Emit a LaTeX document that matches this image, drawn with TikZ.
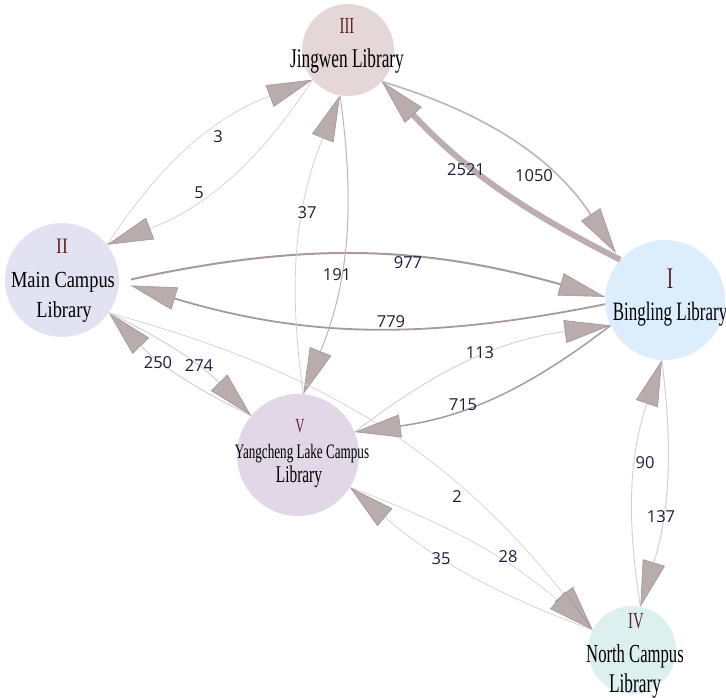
\documentclass[tikz,border=0pt]{standalone}
\usepackage{fontspec}
\setmainfont{Liberation Serif}
\newfontfamily\nodefont[FakeStretch=0.64]{Liberation Serif}
\newfontfamily\nodefontw[FakeStretch=0.8]{Liberation Serif}
\newfontfamily\numfont{Open Sans}
\usetikzlibrary{arrows.meta}
\definecolor{cI}{HTML}{DCEDFB}
\definecolor{cII}{HTML}{E3E2F3}
\definecolor{cIII}{HTML}{E5D7D8}
\definecolor{cIV}{HTML}{DDF0F0}
\definecolor{cV}{HTML}{E1D7E7}
\definecolor{romanc}{HTML}{5E2226}
\definecolor{labc}{HTML}{1E1E3C}
\definecolor{headc}{HTML}{B9ACAD}
\definecolor{headd}{HTML}{A39496}
\definecolor{thinc}{HTML}{D2D0D0}
\definecolor{midc}{HTML}{BDB3B4}
\definecolor{darkc}{HTML}{A89A9C}
\definecolor{thickc}{HTML}{BCADB0}
\begin{document}
\begin{tikzpicture}[x=1pt,y=-1pt,
  lib/.style={circle,inner sep=0pt,draw=none},
  roman/.style={anchor=base,inner sep=0pt,text=romanc},
  libtext/.style={anchor=base,inner sep=0pt,text=black},
  num/.style={inner sep=0pt,text=labc,font=\numfont\fontsize{16.5}{18}\selectfont},
  link/.style={-{Triangle[length=46pt,width=23pt,fill=headc,color=headd,line width=0.6pt]}},
]
\useasboundingbox (0,0) rectangle (726,697);
% circles
\node[lib,fill=cIII,minimum size=92pt] (III) at (348,50) {};
\node[lib,fill=cII,minimum size=114pt] (II) at (62,280) {};
\node[lib,fill=cI,minimum size=120pt] (I) at (665,300) {};
\node[lib,fill=cV,minimum size=122pt] (V) at (298,455) {};
\node[lib,fill=cIV,minimum size=88pt] (IV) at (632,650) {};
% texts
\node[roman,font=\nodefont\fontsize{23}{23}\selectfont] (rIII) at (347,33) {III};
\node[libtext,font=\nodefont\fontsize{27}{27}\selectfont] (nIII) at (347,67) {Jingwen Library};
\node[roman,font=\nodefontw\fontsize{22}{22}\selectfont] (rII) at (62,253) {II};
\node[libtext,font=\nodefontw\fontsize{23}{23}\selectfont] (nII) at (63,287) {Main Campus};
\node[libtext,font=\nodefontw\fontsize{23}{23}\selectfont] (nIIb) at (64,317) {Library};
\node[roman,font=\nodefont\fontsize{30}{30}\selectfont] (rI) at (670,288) {I};
\node[libtext,font=\nodefont\fontsize{26.5}{27}\selectfont] (nI) at (670,320) {Bingling Library};
\node[roman,font=\nodefont\fontsize{20}{20}\selectfont] (rV) at (300,432) {V};
\node[libtext,font=\nodefont\fontsize{20.5}{21}\selectfont] (nV) at (302,458) {Yangcheng Lake Campus};
\node[libtext,font=\nodefont\fontsize{24}{24}\selectfont] (nVb) at (299,482) {Library};
\node[roman,font=\nodefont\fontsize{23}{23}\selectfont] (rIV) at (636,628) {IV};
\node[libtext,font=\nodefont\fontsize{26}{26}\selectfont] (nIV) at (635,662) {North Campus};
\node[libtext,font=\nodefont\fontsize{27}{27}\selectfont] (nIVb) at (635,692) {Library};
% edges
\draw[link,line width=0.7pt,draw=thinc] (II.38) to[bend left=18] (III.220);
\draw[link,line width=0.7pt,draw=thinc] (III.220) to[bend left=18] (II.38);
\draw[link,line width=6pt,draw=thickc] (I.138) to[bend left=10] (III.317);
\draw[link,line width=1.6pt,draw=midc,shorten >=8pt] (III.317) to[bend left=20] (I.138);
\draw[link,line width=2pt,draw=darkc,shorten <=12pt] (II.-2) to[bend left=14] (I.177);
\draw[link,line width=1.8pt,draw=darkc,shorten >=12pt] (I.184) to[bend left=14] (II.-2);
\draw[link,line width=0.8pt,draw=thinc] (V.85) to[bend left=15] (III.260);
\draw[link,line width=1pt,draw=midc] (III.260) to[bend left=15] (V.85);
\draw[link,line width=1pt,draw=thinc] (V.140) to[bend left=10] (II.325);
\draw[link,line width=1pt,draw=thinc] (II.325) to[bend left=10] (V.140);
\draw[link,line width=0.7pt,draw=thinc] (II.325) to[bend left=18] (IV.153);
\draw[link,line width=0.9pt,draw=thinc] (V.22) to[bend left=15] (I.205);
\draw[link,line width=1.5pt,draw=darkc] (I.205) to[bend left=15] (V.22);
\draw[link,line width=0.7pt,draw=thinc] (V.328) to[bend left=10] (IV.153);
\draw[link,line width=0.7pt,draw=thinc] (IV.153) to[bend left=10] (V.328);
\draw[link,line width=0.9pt,draw=thinc] (IV.79) to[bend left=14] (I.267);
\draw[link,line width=1pt,draw=thinc] (I.267) to[bend left=12] (IV.79);
% edge labels
\node[num] (l3) at (218,137) {3};
\node[num] (l5) at (199,193) {5};
\node[num] (l2521) at (466,170) {2521};
\node[num] (l1050) at (534,176) {1050};
\node[num] (l977) at (408,263) {977};
\node[num] (l779) at (391,322) {779};
\node[num] (l37) at (307,213) {37};
\node[num] (l191) at (337,275) {191};
\node[num] (l250) at (158,363) {250};
\node[num] (l274) at (199,366) {274};
\node[num] (l113) at (480,353) {113};
\node[num] (l715) at (463,405) {715};
\node[num] (l2) at (457,497) {2};
\node[num] (l28) at (508,557) {28};
\node[num] (l35) at (441,559) {35};
\node[num] (l90) at (645,463) {90};
\node[num] (l137) at (661,517) {137};
\end{tikzpicture}
\end{document}
